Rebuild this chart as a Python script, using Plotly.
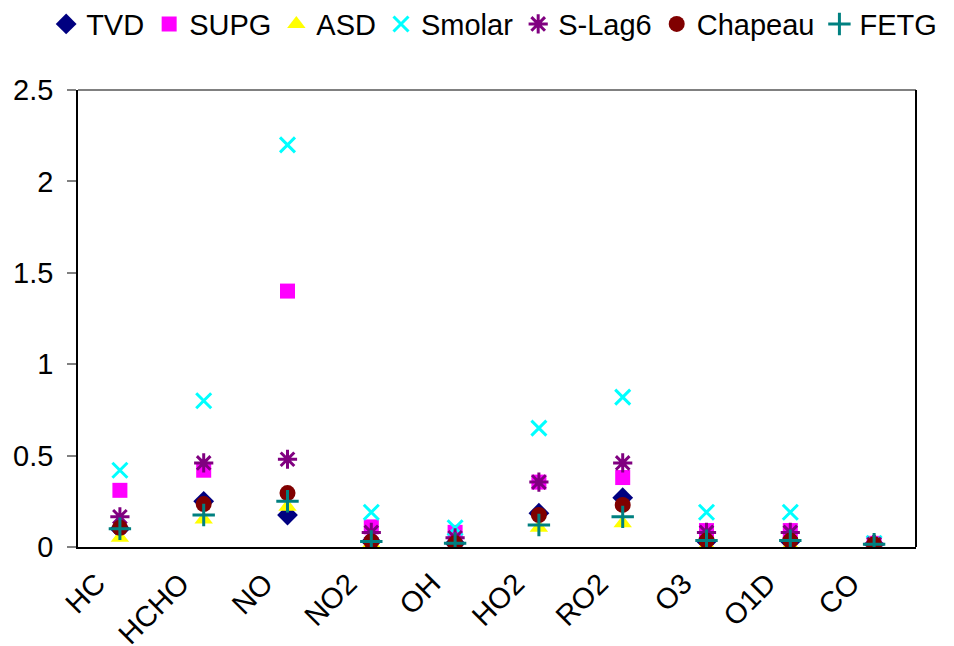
import plotly.graph_objects as go

categories = ["HC", "HCHO", "NO", "NO2", "OH", "HO2", "RO2", "O3", "O1D", "CO"]

tvd     = [0.10, 0.25, 0.175, 0.03, 0.02, 0.185, 0.27, 0.03, 0.03, 0.015]
supg    = [0.31, 0.42, 1.40, 0.11, 0.08, 0.355, 0.38, 0.09, 0.09, 0.02]
asd     = [0.05, 0.15, 0.22, 0.02, 0.00, 0.105, 0.13, 0.01, 0.01, 0.01]
smolar  = [0.42, 0.80, 2.20, 0.19, 0.105, 0.65, 0.82, 0.19, 0.19, 0.02]
slag6   = [0.165, 0.46, 0.48, 0.08, 0.05, 0.355, 0.46, 0.08, 0.08, 0.015]
chapeau = [0.105, 0.235, 0.295, 0.03, 0.02, 0.175, 0.23, 0.035, 0.035, 0.015]
fetg    = [0.10, 0.175, 0.25, 0.03, 0.02, 0.12, 0.165, 0.035, 0.035, 0.015]

series = [
    ("TVD", tvd, "diamond", "#000080", 16, 0),
    ("SUPG", supg, "square", "#FF00FF", 15, 0),
    ("ASD", asd, "triangle-up", "#FFFF00", 16, 0),
    ("Smolar", smolar, "x-thin-open", "#00FFFF", 15, 3),
    ("S-Lag6", slag6, "asterisk-open", "#800080", 16, 3),
    ("Chapeau", chapeau, "circle", "#800000", 16, 0),
    ("FETG", fetg, "cross-thin-open", "#008080", 16, 3),
]

fig = go.Figure()
for name, vals, sym, col, size, lw in series:
    marker = dict(symbol=sym, color=col, size=size)
    if lw:
        marker["line"] = dict(color=col, width=lw)
    else:
        marker["line"] = dict(width=0)
    fig.add_trace(go.Scatter(x=categories, y=vals, mode="markers", name=name, marker=marker))

fig.update_layout(
    width=954, height=646,
    margin=dict(l=78, r=38, t=90, b=99, autoexpand=False),
    paper_bgcolor="white", plot_bgcolor="white",
    font=dict(family="Liberation Sans, Arial, sans-serif", size=29, color="black"),
    showlegend=True,
    legend=dict(orientation="h", xref="paper", x=-0.038, xanchor="left",
                yref="paper", y=1.2, yanchor="top", font=dict(size=29),
                itemwidth=30, tracegroupgap=0, bgcolor="rgba(0,0,0,0)"),
)
fig.update_xaxes(
    type="category", showgrid=False, showline=True, linecolor="black", linewidth=2,
    tickangle=-45, ticks="", tickfont=dict(size=29), range=[-0.5, 9.5], automargin=False,
    ticklabelshift=-23, ticklabelstandoff=6,
)
fig.update_yaxes(
    range=[0, 2.5], dtick=0.5, showgrid=False, showline=True, linecolor="black",
    linewidth=1.5, ticks="outside", ticklen=9, tickcolor="#808080", tickwidth=1.5,
    tickfont=dict(size=29), zeroline=False, automargin=False, ticklabelstandoff=8,
)
fig.add_shape(type="line", xref="paper", yref="paper", x0=0, x1=1, y0=1, y1=1,
              line=dict(color="#808080", width=2))
fig.add_shape(type="line", xref="paper", yref="paper", x0=1, x1=1, y0=0, y1=1,
              line=dict(color="black", width=2))

fig.write_html("out.html", config={"displayModeBar": False},
               post_script="document.body.style.margin='0';document.body.style.overflow='hidden';")
